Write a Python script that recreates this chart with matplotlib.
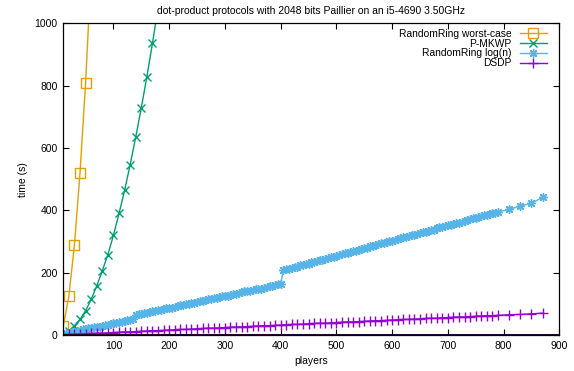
import matplotlib
matplotlib.use("Agg")
import matplotlib.pyplot as plt

plt.rcParams['font.family'] = ['Liberation Sans', 'DejaVu Sans']
plt.rcParams['font.size'] = 7.5

# RandomRing worst-case
worst_x = [10, 20, 30, 40, 50, 60]
worst_y = [29, 125, 289, 521, 809, 1170]

# P-MKWP
mkwp_x = [10, 20, 30, 40, 50, 60, 70, 80, 90, 100, 110, 120, 130, 140, 150, 160, 170, 180]
mkwp_y = [3, 13, 30, 50, 78, 114, 157, 206, 258, 320, 390, 464, 547, 635, 729, 829, 936, 1050]

# RandomRing log(n)
ring_x = list(range(10, 401, 5)) + list(range(405, 791, 5)) + [810, 830, 850, 870]
ring_y = [3, 6, 7, 10, 11, 12, 15, 18, 19, 21,
          22, 25, 26, 27, 30, 32, 33, 34, 37, 40,
          41, 42, 45, 47, 48, 50,
          64, 67, 68, 69, 72, 75, 76, 77, 80, 81,
          82, 86, 87, 88, 91, 94, 95, 96, 99, 101,
          102, 103, 106, 109, 110, 111, 114, 117, 118, 119,
          122, 124, 125, 126, 129, 132, 133, 134, 137, 140,
          141, 142, 145, 147, 148, 149, 152, 155, 156, 157,
          160, 163, 164,
          208, 211, 212, 216, 218, 219, 223, 226, 227, 229,
          233, 234, 238, 240, 241, 245, 248, 249, 251, 255,
          256, 259, 262, 264, 266, 270, 271, 273, 277, 279,
          280, 284, 286, 288, 291, 294, 295, 297, 301, 303,
          306, 307, 310, 313, 314, 318, 320, 322, 325, 327,
          330, 331, 335, 337, 338, 342, 345, 346, 349, 352,
          353, 357, 359, 360, 364, 366, 368, 371, 374, 375,
          378, 381, 384, 385, 388, 391, 392, 395,
          403, 414, 422, 442]

# DSDP
dsdp_x = list(range(10, 791, 10)) + [810, 830, 850, 870]
dsdp_y = [1, 2, 2, 3, 4, 5, 6, 6, 7, 8,
          9, 10, 10, 11, 12, 13, 14, 14, 15, 16,
          17, 18, 18, 19, 20, 21, 22, 22, 23, 24,
          25, 26, 26, 27, 28, 29, 30, 30, 31, 32,
          33, 34, 34, 35, 36, 37, 38, 38, 39, 40,
          41, 42, 42, 43, 44, 45, 46, 46, 47, 48,
          49, 50, 50, 51, 52, 53, 54, 54, 55, 56,
          57, 58, 58, 59, 60, 61, 62, 62, 63,
          65, 66, 68, 70]

x_ticks = [100, 200, 300, 400, 500, 600, 700, 800, 900]
y_ticks = [0, 200, 400, 600, 800, 1000]

fig = plt.figure(figsize=(5.74, 3.71), dpi=100)
ax = fig.add_axes([63.3 / 574, 1 - 335 / 371, 496 / 574, 311.7 / 371])

ax.plot(worst_x, worst_y, color='#e69f00', lw=1, marker='s', ms=6.5,
        mfc='none', mew=1, label='RandomRing worst-case')
ax.plot(mkwp_x, mkwp_y, color='#009e73', lw=1, marker='x', ms=6,
        mew=1, label='P-MKWP')
ax.plot(ring_x, ring_y, color='#56b4e9', lw=1, marker=(8, 2, 0), ms=6.2,
        mew=1, label='RandomRing log(n)')
ax.plot(dsdp_x, dsdp_y, color='#9400d3', lw=1, marker='+', ms=6.5,
        mew=1, label='DSDP')
ax.axhline(0, color='#2c0838', lw=2.2)

ax.set_xlim(10, 900)
ax.set_ylim(0, 1000)
ax.set_xticks(x_ticks)
ax.set_yticks(y_ticks)
ax.tick_params(direction='in', length=4, width=0.8, top=True, right=True, pad=4)
for s in ax.spines.values():
    s.set_linewidth(0.9)

ax.set_title('dot-product protocols with 2048 bits Paillier on an i5-4690 3.50GHz',
             fontsize=7.5, pad=7)
ax.set_xlabel('players', labelpad=4)
ax.set_ylabel('time (s)', labelpad=5)

leg = ax.legend(loc='upper right', bbox_to_anchor=(0.9746, 0.982), frameon=False,
                markerfirst=False, labelspacing=-0.02, handlelength=2.6,
                handletextpad=0.8, borderaxespad=0, borderpad=0, fontsize=7.4)

fig.savefig('out.png', dpi=100)
